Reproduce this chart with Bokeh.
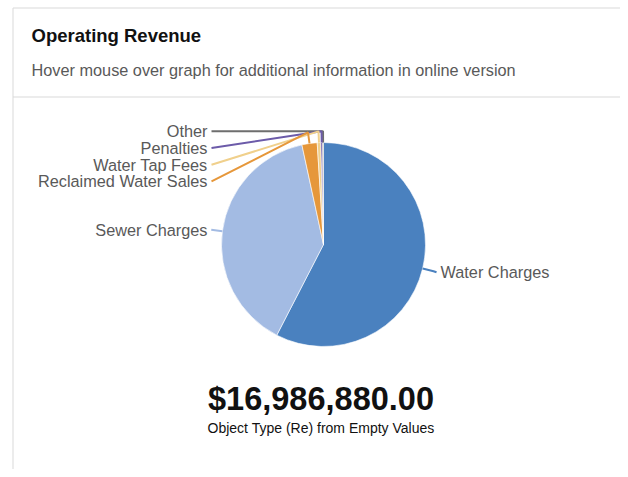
import math
from bokeh.plotting import figure
from bokeh.models import Range1d, ColumnDataSource
from bokeh.core.properties import value
from bokeh.embed import file_html
from bokeh.resources import INLINE

# ---- data ----
categories = ["Water Charges", "Sewer Charges", "Reclaimed Water Sales",
              "Water Tap Fees", "Penalties", "Other"]
values = [9780000, 6630000, 410000, 95000, 50000, 21880]
colors = ["#4A81BF", "#A3BBE3", "#E6973A", "#F0D08C", "#6C5BA9", "#6E6E6E"]
title = "Operating Revenue"
subtitle = "Hover mouse over graph for additional information in online version"
caption = "Object Type (Re) from Empty Values"

W, H = 620, 469
FONT = value("Liberation Sans")

p = figure(width=W, height=H, x_range=Range1d(0, W), y_range=Range1d(0, H),
           output_backend="svg", toolbar_location=None, min_border=0,
           background_fill_color="white", border_fill_color="white")
p.axis.visible = False
p.grid.visible = False
p.outline_line_color = None

def py(page_y):
    return H - page_y

def px(page_x):
    return page_x

# card border and header divider
border = "#D9D9D9"
p.segment(x0=[px(12.5), px(12.5), px(12.5)], y0=[py(7.5), py(7.5), py(96.5)],
          x1=[W, px(12.5), W], y1=[py(7.5), 0, py(96.5)],
          line_color=border, line_width=1)

# header text
p.text(x=[px(31)], y=[py(35)], text=[title], text_font=FONT, text_font_size="18.5px",
       text_font_style="bold", text_color="#111111", text_baseline="middle")
p.text(x=[px(31)], y=[py(69)], text=[subtitle], text_font=FONT, text_font_size="16.3px",
       text_color="#595959", text_baseline="middle")

# pie
cx, cy, R = px(323), py(244), 102
total = sum(values)
starts, ends, mids = [], [], []
acc = 0.0
for v in values:
    f0 = acc / total
    acc += v
    f1 = acc / total
    starts.append(math.pi / 2 - 2 * math.pi * f0)
    ends.append(math.pi / 2 - 2 * math.pi * f1)
    mids.append(2 * math.pi * (f0 + f1) / 2)

src = ColumnDataSource(dict(start=starts, end=ends, color=colors))
p.wedge(x=cx, y=cy, radius=R, start_angle="start", end_angle="end", direction="clock",
        fill_color="color", line_color="white", line_width=0.6, source=src)

# leader lines and labels
edge = [(cx + R * math.sin(m), cy + R * math.cos(m)) for m in mids]
elbow = [(cx + 1.11 * R * math.sin(m), cy + 1.11 * R * math.cos(m)) for m in mids]
label_color = "#595959"
left_anchor = px(211)
left_text_x = px(207)
step = 16.7

lxs, lys, ltx, lty, lal = [], [], [], [], []
# Water Charges (right side)
ex, ey = elbow[0]
ly = ey - 1
lxs.append([edge[0][0], ex, ex + 3]); lys.append([edge[0][1], ey, ly])
ltx.append(ex + 7); lty.append(ly); lal.append("left")
# Sewer Charges (left side)
ex, ey = elbow[1]
lxs.append([edge[1][0], ex]); lys.append([edge[1][1], ey])
ltx.append(left_text_x); lty.append(ey); lal.append("right")
# small slices stacked on the left
top_y = max(elbow[i][1] for i in range(2, len(values)))
for k, i in enumerate(range(len(values) - 1, 1, -1)):
    ly = top_y - k * step
    ex, ey = elbow[i]
    lxs.append([edge[i][0], ex, left_anchor]); lys.append([edge[i][1], ey, ly])
    ltx.append(left_text_x); lty.append(ly); lal.append("right")

order = [0, 1] + list(range(len(values) - 1, 1, -1))
line_colors = [colors[i] for i in order]
label_texts = [categories[i] for i in order]
p.multi_line(xs=lxs, ys=lys, line_color=line_colors, line_width=2)

for t, x, y, a in zip(label_texts, ltx, lty, lal):
    p.text(x=[x], y=[y], text=[t], text_font=FONT, text_font_size="16.3px",
           text_color=label_color, text_baseline="middle", text_align=a)

# total
p.text(x=[px(320.5)], y=[py(398)], text=["${:,.2f}".format(total)], text_font=FONT,
       text_font_size="32.5px", text_font_style="bold", text_color="#111111",
       text_baseline="middle", text_align="center")
p.text(x=[px(320.5)], y=[py(427)], text=[caption], text_font=FONT, text_font_size="14px",
       text_color="#111111", text_baseline="middle", text_align="center")

open("out.html", "w").write(file_html(p, INLINE))
